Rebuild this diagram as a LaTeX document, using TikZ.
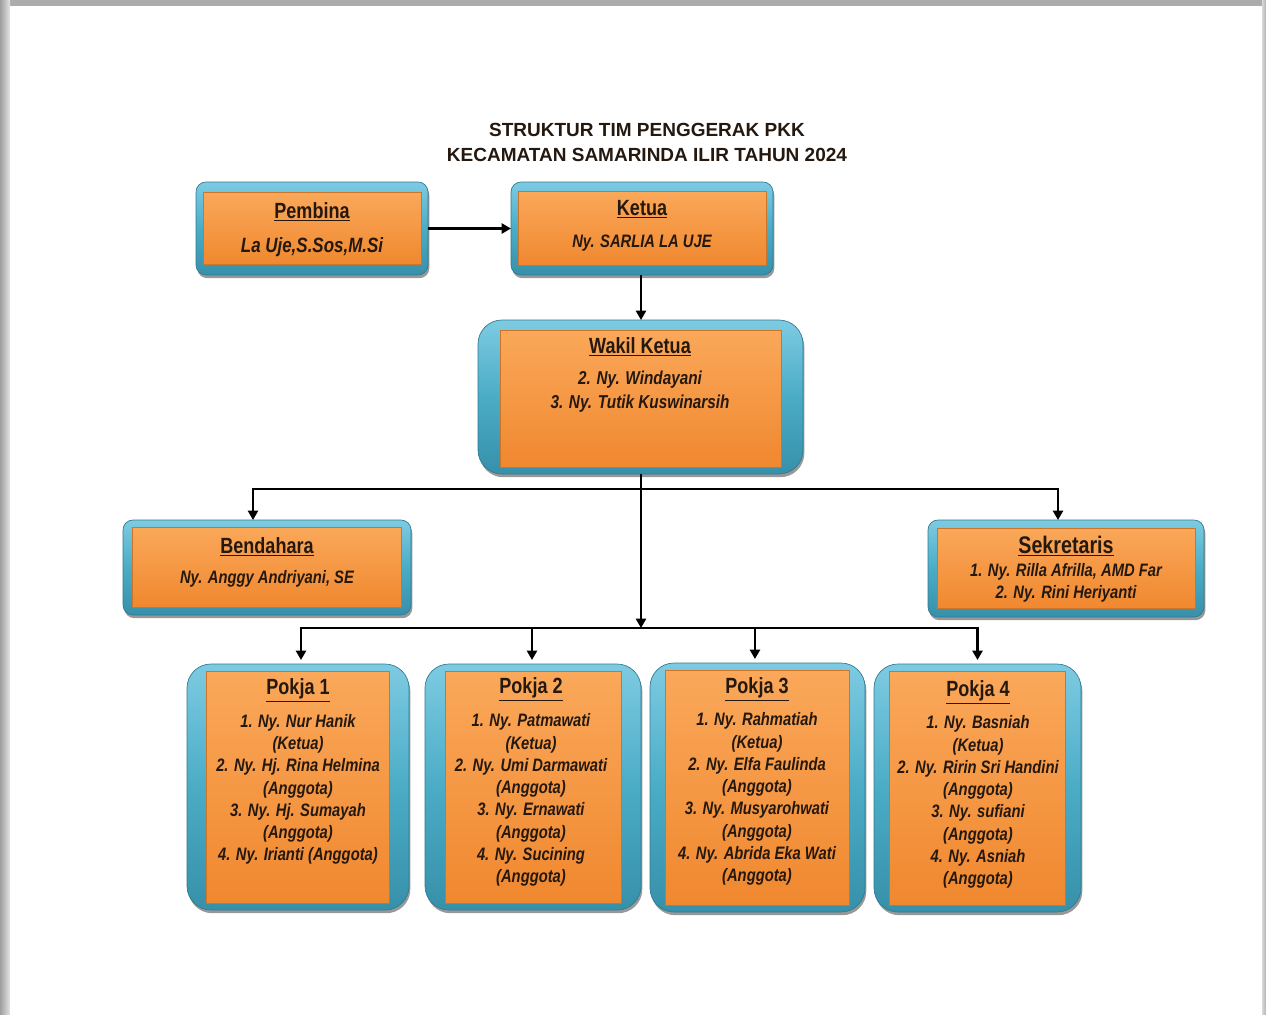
\documentclass[tikz,border=0pt]{standalone}
\usepackage{fontspec}
\setmainfont{Liberation Sans}
\newfontfamily\narrowfont[FakeStretch=0.82]{Liberation Sans}
\usetikzlibrary{arrows.meta,shadows}
\definecolor{cyanL}{HTML}{7DCBE2}
\definecolor{cyanM}{HTML}{4BACC6}
\definecolor{cyanD}{HTML}{3790AA}
\definecolor{orgL}{HTML}{FAA85A}
\definecolor{orgM}{HTML}{F79646}
\definecolor{orgD}{HTML}{F0882F}
\definecolor{txt}{HTML}{24180F}
\tikzset{
  outerbox/.style={inner sep=0pt, outer sep=0pt, top color=cyanL, bottom color=cyanD,
     middle color=cyanM, draw=cyanD!85!black, line width=0.5pt,
     drop shadow={shadow xshift=1pt, shadow yshift=-2.4pt, opacity=0.5, fill=black!80}},
  innerbox/.style={inner sep=0pt, outer sep=0pt, top color=orgL, bottom color=orgD,
     draw=orgD!85!black, line width=0.4pt},
  hdr/.style={text=txt, font=\narrowfont\bfseries\fontsize{16.5pt}{19pt}\selectfont, inner sep=0pt},
  nm/.style={text=txt, font=\narrowfont\bfseries\itshape\fontsize{13.5pt}{16.7pt}\selectfont, inner sep=0pt, align=center},
  conn/.style={line width=1.9pt, black},
  arr/.style={conn, -{Triangle[length=7pt,width=7.5pt]}},
}
\newcommand\OBox[9]{%
  \node[outerbox, rounded corners=#6, minimum width=#4*0.75pt, minimum height=#5*0.75pt] (#1) at (#2,#3) {};
  \node[innerbox, minimum width=#7*0.75pt, minimum height=#8*0.75pt] (#1-in) at (#2,#3+#9) {};
}
\begin{document}
\begin{tikzpicture}[x=0.75pt,y=-0.75pt]
% page background with shadow
\useasboundingbox (0,0) rectangle (1266,1014);
\fill[white] (0,0) rectangle (1266,1014);
\fill[gray!65] (0,0) rectangle (1266,6);
\shade[left color=gray!75, right color=gray!20] (0,0) rectangle (10,1014);
\shade[left color=gray!30, right color=gray!60] (1262,0) rectangle (1266,1014);
\fill[white] (10,6) rectangle (1262,1014);

% title
\node[text=txt, font=\bfseries\fontsize{14.25pt}{18.75pt}\selectfont, align=center, inner sep=0pt] (title) at (647,142.5)
  {STRUKTUR TIM PENGGERAK PKK\\KECAMATAN SAMARINDA ILIR TAHUN 2024};

% boxes
\OBox{pembina}{312}{228.5}{232}{93}{7.5pt}{218}{72}{0}
\OBox{ketua}{642}{228.5}{262}{93}{7.5pt}{248}{74}{-0.5}
\OBox{wakil}{640.5}{397}{325}{154}{18pt}{281}{137}{1.5}
\OBox{bendahara}{267}{567.5}{288}{95}{7.5pt}{269}{80}{-0.5}
\OBox{sekretaris}{1066}{568.5}{276}{97}{7.5pt}{258}{80}{-0.5}
\OBox{pokja1}{298}{787}{222}{246}{18pt}{183}{232}{0}
\OBox{pokja2}{533}{787}{216}{246}{18pt}{176}{232}{0}
\OBox{pokja3}{757.5}{787.5}{215}{249}{18pt}{184}{235}{0}
\OBox{pokja4}{977.5}{788}{207}{248}{18pt}{176}{234}{0}

% texts
\node[hdr] (pembina-h) at (312,212) {\underline{Pembina}};
\node[nm, font=\narrowfont\bfseries\itshape\fontsize{15.5pt}{18pt}\selectfont] (pembina-t) at (312,247) {La Uje,S.Sos,M.Si};
\node[hdr] (ketua-h) at (642,209) {\underline{Ketua}};
\node[nm] (ketua-t) at (642,243) {Ny. SARLIA LA UJE};
\node[hdr] (wakil-h) at (640,347) {\underline{Wakil Ketua}};
\node[nm, font=\narrowfont\bfseries\itshape\fontsize{14pt}{18pt}\selectfont] (wakil-t) at (640,392) {2. Ny. Windayani\\3. Ny. Tutik Kuswinarsih};
\node[hdr] (bendahara-h) at (267,547) {\underline{Bendahara}};
\node[nm] (bendahara-t) at (267,579) {Ny. Anggy Andriyani, SE};
\node[hdr, font=\narrowfont\bfseries\fontsize{18pt}{20pt}\selectfont] (sekretaris-h) at (1066,546) {\underline{Sekretaris}};
\node[nm, font=\narrowfont\bfseries\itshape\fontsize{13.5pt}{16.5pt}\selectfont] (sekretaris-t) at (1066,583) {1. Ny. Rilla Afrilla, AMD Far\\2. Ny. Rini Heriyanti};

\node[hdr] (pokja1-h) at (298,690) {\underline{Pokja 1}};
\node[nm] (pokja1-t) at (298,789.5) {1. Ny. Nur Hanik\\(Ketua)\\2. Ny. Hj. Rina Helmina\\(Anggota)\\3. Ny. Hj. Sumayah\\(Anggota)\\4. Ny. Irianti (Anggota)};
\node[hdr] (pokja2-h) at (531,689) {\underline{Pokja 2}};
\node[nm] (pokja2-t) at (531,800) {1. Ny. Patmawati\\(Ketua)\\2. Ny. Umi Darmawati\\(Anggota)\\3. Ny. Ernawati\\(Anggota)\\4. Ny. Sucining\\(Anggota)};
\node[hdr] (pokja3-h) at (757,689) {\underline{Pokja 3}};
\node[nm] (pokja3-t) at (757,799) {1. Ny. Rahmatiah\\(Ketua)\\2. Ny. Elfa Faulinda\\(Anggota)\\3. Ny. Musyarohwati\\(Anggota)\\4. Ny. Abrida Eka Wati\\(Anggota)};
\node[hdr] (pokja4-h) at (978,692) {\underline{Pokja 4}};
\node[nm] (pokja4-t) at (978,802) {1. Ny. Basniah\\(Ketua)\\2. Ny. Ririn Sri Handini\\(Anggota)\\3. Ny. sufiani\\(Anggota)\\4. Ny. Asniah\\(Anggota)};

% connectors
\coordinate (j1) at (641,489);
\coordinate (j2) at (641,628);
\draw[arr] (pembina.east) -- (ketua.west);
\draw[arr] (ketua.south -| j1) -- (wakil.north -| j1);
\draw[arr] (wakil.south -| j1) -- (j2);
\draw[arr] (j1) -| ([xshift=-10.5pt]bendahara.north);
\draw[arr] (j1) -| ([xshift=-6pt]sekretaris.north);
\draw[arr] (j2) -| ([xshift=2.25pt,yshift=3pt]pokja1.north);
\draw[arr] (j2) -| ([xshift=-0.75pt,yshift=3pt]pokja2.north);
\draw[arr] (j2) -| ([xshift=-1.9pt,yshift=3pt]pokja3.north);
\draw[arr] (j2) -| ([yshift=3pt]pokja4.north);
\end{tikzpicture}
\end{document}
